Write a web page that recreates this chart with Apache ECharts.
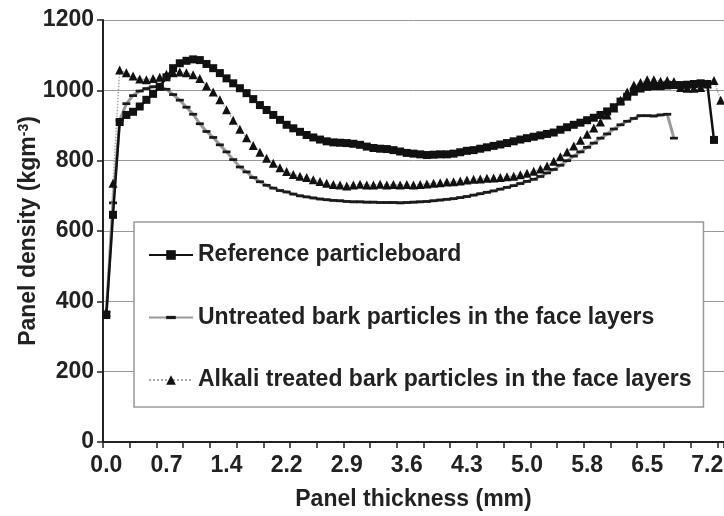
<!DOCTYPE html>
<html><head><meta charset="utf-8">
<script src="https://cdn.jsdelivr.net/npm/echarts@6/dist/echarts.min.js"></script>
<style>html,body{margin:0;padding:0;background:#fff}#c{width:724px;height:516px}</style>
</head><body><div id="c"></div>
<script>
// Panel thickness categories (mm), one per measurement step
const thickness = [0.00,0.08,0.16,0.24,0.32,0.40,0.48,0.56,0.64,0.72,0.80,0.88,0.96,1.04,1.12,1.20,1.28,1.36,1.44,1.52,1.60,1.68,1.76,1.84,1.92,2.00,2.08,2.16,2.24,2.32,2.40,2.48,2.56,2.64,2.72,2.80,2.88,2.96,3.04,3.12,3.20,3.28,3.36,3.44,3.52,3.60,3.68,3.76,3.84,3.92,4.00,4.08,4.16,4.24,4.32,4.40,4.48,4.56,4.64,4.72,4.80,4.88,4.96,5.04,5.12,5.20,5.28,5.36,5.44,5.52,5.60,5.68,5.76,5.84,5.92,6.00,6.08,6.16,6.24,6.32,6.40,6.48,6.56,6.64,6.72,6.80,6.88,6.96,7.04,7.12,7.20,7.28,7.36];
const xTickLabels = ['0.0','0.7','1.4','2.2','2.9','3.6','4.3','5.0','5.8','6.5','7.2'];
const yTickValues = [0,200,400,600,800,1000,1200];

const seriesNames = ['Reference particleboard','Untreated bark particles in the face layers','Alkali treated bark particles in the face layers'];

const referenceBoard = [361,646,910,930,939,954,973,990,1010,1037,1063,1077,1084,1088,1086,1075,1063,1049,1034,1020,1006,992,975,958,944,930,916,902,892,882,873,866,860,855,852,851,850,848,845,840,836,834,833,830,826,822,820,818,816,817,818,818,820,824,828,830,834,838,842,846,850,855,860,864,868,872,876,880,888,895,902,908,915,922,930,940,952,968,982,996,1005,1010,1012,1012,1014,1015,1015,1016,1018,1020,1018,859];

const untreatedBark = [370,680,915,962,985,998,1005,1010,1012,1003,988,972,952,932,905,883,866,845,825,803,782,768,752,740,730,722,715,711,705,700,697,694,691,689,687,686,684,683,683,682,682,681,681,681,680,681,682,683,684,686,688,690,692,695,698,702,706,710,714,719,724,729,735,741,747,755,765,775,787,800,813,825,838,850,864,876,890,902,912,920,928,928,927,930,932,864];

const alkaliBark = [370,736,1058,1050,1041,1032,1030,1034,1037,1046,1050,1052,1050,1044,1034,1012,995,973,945,915,889,865,843,824,807,793,780,769,761,756,752,746,741,736,732,731,728,731,733,731,731,733,731,732,731,732,731,732,734,736,737,739,740,742,745,747,748,750,751,752,754,756,760,764,770,776,785,798,811,825,842,858,875,893,910,930,950,972,995,1015,1022,1030,1030,1026,1028,1025,1008,1006,1006,1008,1018,1028,972];

const FONT = '"Liberation Sans", Arial, sans-serif';
const TXT = '#222';
const FS = 23;
const dashSymbol = 'path://M0,0 L0,0 M0,3.3 L10,3.3 L10,6.7 L0,6.7 Z M10,10 L10,10';

const chart = echarts.init(document.getElementById('c'), null, {renderer: 'canvas'});
chart.setOption({
  animation: false,
  backgroundColor: '#fff',
  textStyle: {fontFamily: FONT},
  grid: {left: 103, top: 20, width: 621, height: 422, outerBoundsMode: 'none', containLabel: false},
  legend: {
    orient: 'vertical', left: 134, top: 222,
    backgroundColor: '#fff', borderColor: '#999', borderWidth: 1.5, borderRadius: 0,
    padding: [20, 12, 14, 14], itemGap: 36.5, itemWidth: 44, itemHeight: 12,
    textStyle: {fontFamily: FONT, fontSize: FS, fontWeight: 'bold', color: TXT, lineHeight: 26},
    data: seriesNames
  },
  xAxis: {
    type: 'category', data: thickness, boundaryGap: true,
    name: 'Panel thickness (mm)', nameLocation: 'middle', nameGap: 46, nameMoveOverlap: false,
    nameTextStyle: {fontFamily: FONT, fontSize: FS, fontWeight: 'bold', color: TXT},
    axisLine: {show: true, lineStyle: {color: '#222', width: 2}},
    axisTick: {show: true, interval: 3, length: 6, lineStyle: {color: '#222', width: 1.5}},
    axisLabel: {interval: 8, margin: 12, fontFamily: FONT, fontSize: FS, fontWeight: 'bold', color: TXT,
      formatter: (v, i) => (i % 9 === 0 ? xTickLabels[i / 9] : '')},
    splitLine: {show: false}
  },
  yAxis: {
    type: 'value', min: yTickValues[0], max: yTickValues[yTickValues.length - 1], interval: 200,
    name: 'Panel density (kgm{sup|-3})', nameLocation: 'middle', nameGap: 63, nameRotate: 90, nameMoveOverlap: false,
    nameTextStyle: {fontFamily: FONT, fontSize: FS, fontWeight: 'bold', color: TXT,
      rich: {sup: {fontFamily: FONT, fontSize: 14, fontWeight: 'bold', color: TXT, verticalAlign: 'top', padding: [0, 0, 9, 0]}}},
    axisLine: {show: true, lineStyle: {color: '#222', width: 2}},
    axisTick: {show: true, length: 6, lineStyle: {color: '#222', width: 1.5}},
    axisLabel: {margin: 9, fontFamily: FONT, fontSize: FS, fontWeight: 'bold', color: TXT,
      formatter: v => String(v)},
    splitLine: {show: true, lineStyle: {color: '#999', width: 1}}
  },
  series: [
    {
      name: seriesNames[1], type: 'line', data: untreatedBark, z: 2,
      symbol: dashSymbol, symbolSize: 8, showAllSymbol: true,
      lineStyle: {color: '#9a9a9a', width: 3},
      itemStyle: {color: '#1a1a1a', borderWidth: 0}
    },
    {
      name: seriesNames[2], type: 'line', data: alkaliBark, z: 3,
      symbol: 'triangle', symbolSize: 9, showAllSymbol: true,
      lineStyle: {color: '#a8a8a8', width: 1.5, type: 'dotted'},
      itemStyle: {color: '#111', borderWidth: 0}
    },
    {
      name: seriesNames[0], type: 'line', data: referenceBoard, z: 4,
      symbol: 'rect', symbolSize: 8, showAllSymbol: true,
      lineStyle: {color: '#111', width: 2.5},
      itemStyle: {color: '#111', borderWidth: 0}
    }
  ]
});
</script>
</body></html>
